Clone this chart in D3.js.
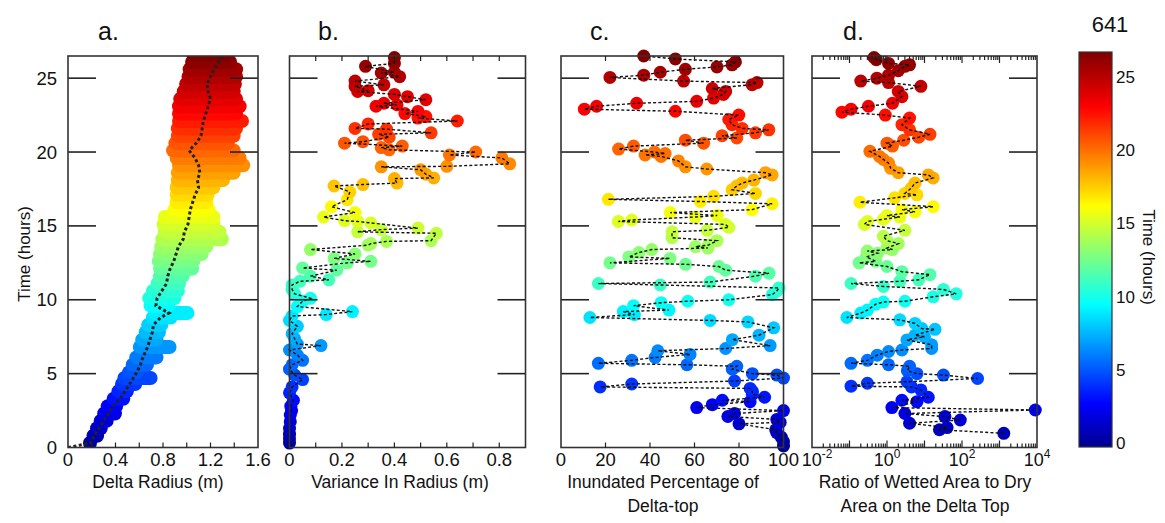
<!DOCTYPE html>
<html>
<head>
<meta charset="utf-8">
<script src="https://cdn.jsdelivr.net/npm/d3@7"></script>
<style>
  body { margin: 0; background: #fff; }
  svg { display: block; }
  text { font-family: "Liberation Sans", Arial, sans-serif; fill: #111; }
</style>
</head>
<body>
<div id="chart"></div>
<script>
// ---- data: [time (h), value] ----

// panel a: delta radius spread per time step [t, low edge, high edge, mean]
const radiusBand = [
  [0.3, 0.13, 0.24, 0.19], [0.8, 0.16, 0.30, 0.22], [1.3, 0.19, 0.33, 0.26], [1.8, 0.22, 0.38, 0.30],
  [2.3, 0.25, 0.45, 0.34], [2.8, 0.28, 0.46, 0.38], [3.3, 0.33, 0.52, 0.44], [3.8, 0.37, 0.55, 0.48],
  [4.3, 0.40, 0.62, 0.52], [4.7, 0.42, 0.75, 0.55], [5.1, 0.46, 0.64, 0.58], [5.6, 0.49, 0.72, 0.61],
  [6.1, 0.52, 0.80, 0.63], [6.8, 0.55, 0.91, 0.67], [7.3, 0.57, 0.80, 0.69], [7.8, 0.60, 0.82, 0.71],
  [8.3, 0.62, 0.84, 0.72], [8.8, 0.66, 0.92, 0.78], [9.1, 0.68, 1.06, 0.85], [9.6, 0.64, 0.90, 0.74],
  [10.1, 0.63, 0.95, 0.75], [10.6, 0.66, 0.98, 0.79], [11.1, 0.70, 0.99, 0.83], [11.6, 0.72, 1.02, 0.84],
  [12.1, 0.72, 1.10, 0.86], [12.6, 0.71, 1.11, 0.89], [13.1, 0.72, 1.18, 0.91], [13.6, 0.73, 1.22, 0.93],
  [14.1, 0.74, 1.35, 0.97], [14.6, 0.76, 1.33, 0.98], [15.1, 0.75, 1.28, 1.01], [15.6, 0.76, 1.28, 1.02],
  [16.1, 0.84, 1.24, 1.03], [16.6, 0.86, 1.22, 1.05], [17.1, 0.86, 1.23, 1.07], [17.6, 0.86, 1.28, 1.10],
  [18.1, 0.87, 1.36, 1.09], [18.6, 0.87, 1.45, 1.11], [19.1, 0.88, 1.53, 1.10], [19.6, 0.86, 1.50, 1.07],
  [20.1, 0.83, 1.45, 1.02], [20.6, 0.85, 1.40, 1.08], [21.1, 0.87, 1.45, 1.12], [21.6, 0.87, 1.47, 1.13],
  [22.1, 0.88, 1.52, 1.14], [22.6, 0.88, 1.47, 1.16], [23.1, 0.88, 1.50, 1.18], [23.6, 0.89, 1.47, 1.20],
  [24.1, 0.92, 1.45, 1.18], [24.6, 0.94, 1.46, 1.17], [25.1, 0.96, 1.47, 1.20], [25.6, 0.97, 1.47, 1.23],
  [26.1, 0.99, 1.42, 1.27], [26.6, 1.00, 1.40, 1.30]
]
// mean line starts at the origin
const radiusStart = [0, 0]

// panel b: variance in radius (m)
const variance = [
  [0.3, 0], [0.6, 0], [0.9, 0], [1.3, 0], [1.75, 0.003], [2.2, 0.003], [2.5, 0.008], [2.8, 0.005],
  [3.2, 0.015], [3.7, 0], [4.1, 0.01], [4.6, 0.05], [4.9, 0.02], [5.3, 0], [5.6, 0.01], [5.9, 0.05],
  [6.26, 0.03], [6.6, 0], [6.9, 0.12], [7.0, 0.03], [7.35, 0.02], [7.7, 0.01], [8.2, 0.03], [8.6, 0],
  [8.9, 0.01], [9.0, 0.14], [9.2, 0.24], [9.54, 0.03], [9.9, 0.05], [10.1, 0.08], [10.4, 0.02],
  [10.7, 0.01], [11.0, 0.01], [11.25, 0.04], [11.35, 0.15], [11.6, 0.08], [12.0, 0.18], [12.15, 0.05],
  [12.5, 0.22], [12.6, 0.31], [12.8, 0.17], [13.1, 0.25], [13.4, 0.08], [13.7, 0.30], [13.8, 0.31],
  [13.95, 0.37], [14.0, 0.54], [14.5, 0.56], [14.6, 0.26], [14.75, 0.35], [14.85, 0.49], [15.2, 0.31],
  [15.3, 0.26], [15.35, 0.21], [15.6, 0.13], [15.9, 0.25], [16.3, 0.16], [16.77, 0.22], [17.3, 0.23],
  [17.7, 0.17], [17.8, 0.28], [17.9, 0.41], [18.2, 0.40], [18.25, 0.55], [18.5, 0.52], [18.8, 0.50],
  [19.0, 0.35], [19.03, 0.60], [19.2, 0.84], [19.6, 0.81], [19.8, 0.61], [20.0, 0.71], [20.15, 0.38],
  [20.3, 0.35], [20.4, 0.43], [20.6, 0.21], [20.7, 0.28], [21.0, 0.38], [21.2, 0.34], [21.3, 0.54],
  [21.55, 0.37], [21.6, 0.25], [21.9, 0.30], [22.1, 0.64], [22.3, 0.49], [22.4, 0.52], [22.6, 0.44],
  [22.75, 0.49], [23.1, 0.33], [23.2, 0.41], [23.3, 0.36], [23.54, 0.52], [23.75, 0.45], [23.9, 0.40],
  [24.1, 0.26], [24.15, 0.30], [24.45, 0.25], [24.55, 0.36], [24.8, 0.25], [25.1, 0.42], [25.35, 0.35],
  [25.4, 0.40], [25.8, 0.29], [26.0, 0.40], [26.4, 0.40]
]

// panel c: inundated percentage of delta-top
const inundated = [
  [0.1, 100], [0.4, 100], [0.7, 99], [1.0, 97], [1.2, 96.5], [1.6, 80], [1.7, 98.5], [1.9, 97],
  [2.1, 75], [2.3, 78], [2.5, 100], [2.7, 61], [2.9, 68], [3.1, 85], [3.2, 72.5], [3.4, 91.5],
  [3.6, 86], [3.8, 86], [4.0, 85], [4.1, 17.6], [4.3, 31.8], [4.5, 78], [4.7, 100], [4.9, 97],
  [5.0, 86], [5.3, 77], [5.5, 79], [5.6, 56.6], [5.7, 16.8], [5.9, 31.8], [6.1, 42.3], [6.3, 58],
  [6.55, 43.5], [6.7, 74], [6.9, 94], [7.3, 77], [7.6, 89], [8.1, 95.6], [8.5, 84], [8.6, 67],
  [8.8, 13], [9.0, 33], [9.2, 28], [9.3, 48.5], [9.6, 32.6], [9.8, 45], [9.9, 57], [10.0, 75.4],
  [10.35, 95], [10.6, 97], [10.8, 98], [11.0, 44.6], [11.1, 16.8], [11.2, 67], [11.6, 87.4],
  [11.8, 93.5], [12.0, 74], [12.25, 71], [12.4, 56], [12.5, 22], [12.8, 49], [12.9, 30.5],
  [13.2, 35], [13.4, 40.8], [13.5, 66], [13.6, 60.4], [13.7, 66.3], [14.0, 70.1], [14.2, 49.9],
  [14.6, 49.9], [14.7, 65.7], [14.9, 75.4], [15.1, 73.9], [15.3, 25.8], [15.4, 31.8], [15.6, 60.4],
  [15.7, 70.2], [15.9, 49.1], [16.1, 85.9], [16.5, 94.9], [16.65, 62.6], [16.8, 21.3], [17.0, 68.6],
  [17.2, 87.4], [17.45, 76.9], [17.7, 79], [17.9, 81.4], [18.1, 86.7], [18.45, 94.9], [18.6, 91.9],
  [18.85, 65.5], [19.0, 55.9], [19.4, 52.8], [19.7, 45], [19.8, 37.8], [19.9, 46.8], [20.0, 42],
  [20.2, 25.9], [20.4, 32.6], [20.6, 64.1], [20.8, 55.9], [20.95, 79], [21.1, 72.4], [21.3, 87.4],
  [21.5, 93.4], [21.6, 81.4], [21.85, 76.9], [22.2, 75.4], [22.5, 79.9], [22.76, 51.4], [22.9, 10.5],
  [23.1, 16], [23.3, 34], [23.43, 61], [23.65, 68.6], [23.9, 73], [24.1, 74], [24.3, 68],
  [24.56, 85.9], [24.7, 88.1], [24.8, 55.1], [25.05, 22], [25.2, 37.2], [25.4, 44.6], [25.6, 55.9],
  [25.76, 70.1], [25.9, 76.9], [26.1, 78.4], [26.3, 51.4], [26.5, 37.2]
]

// panel d: ratio of wetted to dry area (log axis)
const wetDryRatio = [
  [0.96, 1300], [1.2, 25], [1.35, 40], [1.64, 4], [1.86, 90], [2.09, 35], [2.3, 3], [2.54, 9000],
  [2.7, 1.35], [3.1, 6.3], [3.2, 2.5], [3.4, 12.6], [3.9, 8], [4.1, 4.5], [4.15, 0.11], [4.35, 0.3],
  [4.45, 3.4], [4.67, 260], [4.9, 32], [5.0, 6.3], [5.2, 3.5], [5.5, 4], [5.6, 1.1], [5.7, 0.11],
  [5.9, 0.3], [6.25, 0.55], [6.5, 1.1], [6.6, 2.5], [6.7, 15.5], [6.95, 15.5], [7.28, 3.4], [7.5, 10],
  [7.6, 5.6], [8.0, 19], [8.05, 8.5], [8.4, 5.6], [8.64, 2.2], [8.8, 0.085], [9.1, 0.2], [9.3, 0.3],
  [9.7, 0.5], [9.85, 0.8], [9.9, 3], [10.2, 17], [10.4, 70], [10.7, 32], [10.9, 0.8], [11.1, 0.11],
  [11.25, 2.2], [11.35, 7], [11.7, 14], [11.9, 2.5], [12.25, 1], [12.5, 0.18], [12.6, 0.5],
  [12.9, 0.28], [13.15, 0.56], [13.3, 0.3], [13.4, 1.4], [13.5, 1], [13.8, 2], [14.0, 1], [14.3, 0.8],
  [14.7, 3], [15.1, 0.25], [15.3, 0.3], [15.45, 0.8], [15.6, 2.2], [15.7, 1], [15.95, 5.6], [16.1, 2.5],
  [16.3, 17], [16.6, 0.19], [16.9, 1.6], [17.1, 6.3], [17.2, 3], [17.55, 4.4], [17.9, 5.6], [18.25, 17],
  [18.45, 12.6], [18.6, 2], [18.9, 1.26], [19.25, 1.1], [19.5, 0.8], [19.7, 0.63], [20.05, 0.35],
  [20.4, 1.4], [20.6, 1], [20.8, 2.8], [21.0, 7], [21.2, 14], [21.5, 4], [21.85, 2.5], [22.3, 4],
  [22.5, 0.9], [22.7, 0.063], [22.9, 0.11], [23.1, 0.32], [23.3, 1.4], [23.75, 2.5], [24.1, 2],
  [24.45, 8], [24.7, 1.1], [24.8, 0.2], [25.0, 0.54], [25.2, 1.1], [25.5, 2], [25.8, 3], [25.9, 4],
  [26.0, 1.1], [26.25, 0.52], [26.4, 0.45]
]

const timeTicks = [0, 5, 10, 15, 20, 25]
const colorbarTicks = [0, 5, 10, 15, 20, 25]

// ---- layout ----
const width = 1165
const height = 523
const plotTop = 56
const plotBottom = 447.5
const tMax = 26.5
const r = 6.5

const svg = d3.select('#chart').append('svg')
  .attr('width', width)
  .attr('height', height)

const yScale = d3.scaleLinear().domain([0, tMax]).range([plotBottom, plotTop])

// MATLAB "jet" colour map over time
const jetPos = [0, 0.11, 0.36, 0.61, 0.86, 1]
const jetColors = ['#00008f', '#0000ff', '#00ffff', '#ffff00', '#ff0000', '#800000']
const color = d3.scaleLinear()
  .domain(jetPos.map(p => p * tMax))
  .range(jetColors)
  .clamp(true)

// frame + long inward time ticks on both sides
function frame(x0, x1) {
  const g = svg.append('g')
  g.selectAll('line.tl').data(timeTicks.filter(t => t > 0)).join('line')
    .attr('x1', x0).attr('x2', x0 + 28)
    .attr('y1', d => yScale(d)).attr('y2', d => yScale(d))
    .attr('stroke', '#222').attr('stroke-width', 1.6)
  g.selectAll('line.tr').data(timeTicks.filter(t => t > 0)).join('line')
    .attr('x1', x1 - 28).attr('x2', x1)
    .attr('y1', d => yScale(d)).attr('y2', d => yScale(d))
    .attr('stroke', '#222').attr('stroke-width', 1.6)
  g.append('rect')
    .attr('x', x0).attr('y', plotTop)
    .attr('width', x1 - x0).attr('height', plotBottom - plotTop)
    .attr('fill', 'none').attr('stroke', '#333').attr('stroke-width', 1.6)
  return g
}

// short inward ticks along bottom (and optionally top)
function minorTicks(xScale, values, len, both) {
  const g = svg.append('g').attr('stroke', '#222').attr('stroke-width', 1.2)
  g.selectAll('line.b').data(values).join('line')
    .attr('x1', d => xScale(d)).attr('x2', d => xScale(d))
    .attr('y1', plotBottom).attr('y2', d => plotBottom - (typeof len === 'function' ? len(d) : len))
  if (both) {
    g.selectAll('line.t').data(values).join('line')
      .attr('x1', d => xScale(d)).attr('x2', d => xScale(d))
      .attr('y1', plotTop).attr('y2', d => plotTop + (typeof len === 'function' ? len(d) : len))
  }
}

function tickLabels(xScale, values, fmt) {
  svg.append('g').selectAll('text').data(values).join('text')
    .attr('x', d => xScale(d)).attr('y', 466)
    .attr('text-anchor', 'middle')
    .attr('font-size', 18.5)
    .attr('fill', '#111')
    .text(fmt)
}

function axisTitle(cx, lines) {
  lines.forEach((s, i) => {
    svg.append('text')
      .attr('x', cx).attr('y', 488 + i * 23.5)
      .attr('text-anchor', 'middle')
      .attr('font-size', 17.5)
      .attr('fill', '#111')
      .text(s)
  })
}

function panelLetter(x, s) {
  svg.append('text')
    .attr('x', x).attr('y', 40)
    .attr('font-family', '"Liberation Serif", "Times New Roman", serif')
    .attr('font-size', 25)
    .attr('fill', '#000')
    .text(s)
}

const dashed = (xScale, data) => d3.line()
  .x(d => xScale(d[1]))
  .y(d => yScale(d[0]))(data)

function scatterPanel(xScale, data) {
  const g = svg.append('g')
  g.selectAll('circle').data(data).join('circle')
    .attr('cx', d => xScale(d[1]))
    .attr('cy', d => yScale(d[0]))
    .attr('r', r)
    .attr('fill', d => color(d[0]))
  g.append('path')
    .attr('d', dashed(xScale, data))
    .attr('fill', 'none')
    .attr('stroke', '#111')
    .attr('stroke-width', 1.4)
    .attr('stroke-dasharray', '3,2.2')
}

// ---- panel a ----
const xA = d3.scaleLinear().domain([0, 1.6]).range([68, 258])
svg.append('clipPath').attr('id', 'clipA')
  .append('rect').attr('x', 68).attr('y', plotTop).attr('width', 190).attr('height', plotBottom - plotTop)
const gA = svg.append('g').attr('clip-path', 'url(#clipA)')
gA.selectAll('line').data(radiusBand).join('line')
  .attr('x1', d => xA(d[1]) + r)
  .attr('x2', d => Math.max(xA(d[2]) - r, xA(d[1]) + r))
  .attr('y1', d => yScale(d[0]))
  .attr('y2', d => yScale(d[0]))
  .attr('stroke', d => color(d[0]))
  .attr('stroke-width', 2 * r + 1)
  .attr('stroke-linecap', 'round')
gA.append('path')
  .attr('d', dashed(xA, [radiusStart].concat(radiusBand.map(d => [d[0], d[3]]))))
  .attr('fill', 'none')
  .attr('stroke', '#222')
  .attr('stroke-width', 3)
  .attr('stroke-dasharray', '3,2.5')
frame(68, 258)
minorTicks(xA, [0.2, 0.4, 0.6, 0.8, 1.0, 1.2, 1.4], 5, false)
tickLabels(xA, [0, 0.4, 0.8, 1.2, 1.6], d => d === 0 ? '0' : d3.format('.1f')(d))
axisTitle(158, ['Delta Radius (m)'])
panelLetter(98, 'a.')

// y labels only on panel a
svg.append('g').selectAll('text').data(timeTicks).join('text')
  .attr('x', 57).attr('y', d => yScale(d) + 6.5)
  .attr('text-anchor', 'end')
  .attr('font-size', 18.5)
  .attr('fill', '#111')
  .text(d => d)
svg.append('text')
  .attr('transform', `translate(30 ${254}) rotate(-90)`)
  .attr('text-anchor', 'middle')
  .attr('font-size', 17)
  .attr('fill', '#111')
  .text('Time (hours)')

// ---- panel b ----
const xB = d3.scaleLinear().domain([0, 0.9]).range([289.5, 525.5])
scatterPanel(xB, variance)
frame(289.5, 525.5)
minorTicks(xB, [0.1, 0.2, 0.3, 0.4, 0.5, 0.6, 0.7, 0.8], 5, true)
tickLabels(xB, [0, 0.2, 0.4, 0.6, 0.8], d => d === 0 ? '0' : d3.format('.1f')(d))
axisTitle(400, ['Variance In Radius (m)'])
panelLetter(318, 'b.')

// ---- panel c ----
const xC = d3.scaleLinear().domain([0, 100]).range([561, 783.5])
scatterPanel(xC, inundated)
frame(561, 783.5)
minorTicks(xC, [20, 40, 60, 80], 5, true)
tickLabels(xC, [0, 20, 40, 60, 80, 100], d => d)
axisTitle(663, ['Inundated Percentage of', 'Delta-top'])
panelLetter(590, 'c.')

// ---- panel d ----
const xD = d3.scaleLog().domain([1e-2, 1e4]).range([812, 1037])
scatterPanel(xD, wetDryRatio)
frame(812, 1037)
const logTicks = xD.ticks().filter(v => v > 1e-2 && v < 1e4)
const isDecade = v => Math.abs(Math.log10(v) - Math.round(Math.log10(v))) < 1e-9
minorTicks(xD, logTicks, d => isDecade(d) ? 7 : 4, true)
svg.append('g').selectAll('text').data([1e-2, 1, 1e2, 1e4]).join('text')
  .attr('x', d => xD(d) + (d === 1e-2 ? 5 : 0)).attr('y', 466)
  .attr('text-anchor', 'middle')
  .attr('font-size', 18)
  .attr('fill', '#111')
  .each(function(d) {
    const t = d3.select(this)
    t.append('tspan').text('10')
    t.append('tspan').attr('dy', -8).attr('font-size', 12).text(Math.round(Math.log10(d)))
  })
axisTitle(925, ['Ratio of Wetted Area to Dry', 'Area on the Delta Top'])
panelLetter(843, 'd.')

// ---- colour bar ----
const cbX = 1079, cbW = 33, cbTop = 52, cbBottom = 447
const cbScale = d3.scaleLinear().domain([0, 25]).range([443, 77])
const grad = svg.append('defs').append('linearGradient')
  .attr('id', 'jet').attr('x1', 0).attr('x2', 0).attr('y1', 1).attr('y2', 0)
jetPos.forEach((p, i) => {
  grad.append('stop').attr('offset', p).attr('stop-color', jetColors[i])
})
svg.append('rect')
  .attr('x', cbX).attr('y', cbTop)
  .attr('width', cbW).attr('height', cbBottom - cbTop)
  .attr('fill', 'url(#jet)')
  .attr('stroke', '#333').attr('stroke-width', 1.2)
svg.append('g').selectAll('text').data(colorbarTicks).join('text')
  .attr('x', cbX + cbW + 4).attr('y', d => cbScale(d) + 6)
  .attr('font-size', 17)
  .attr('fill', '#111')
  .text(d => d)
svg.append('text')
  .attr('transform', `translate(1143 ${257}) rotate(90)`)
  .attr('text-anchor', 'middle')
  .attr('font-size', 17)
  .attr('fill', '#111')
  .text('Time (hours)')
svg.append('text')
  .attr('x', 1110).attr('y', 32)
  .attr('text-anchor', 'middle')
  .attr('font-size', 22)
  .attr('fill', '#000')
  .text('641')
</script>
</body>
</html>
